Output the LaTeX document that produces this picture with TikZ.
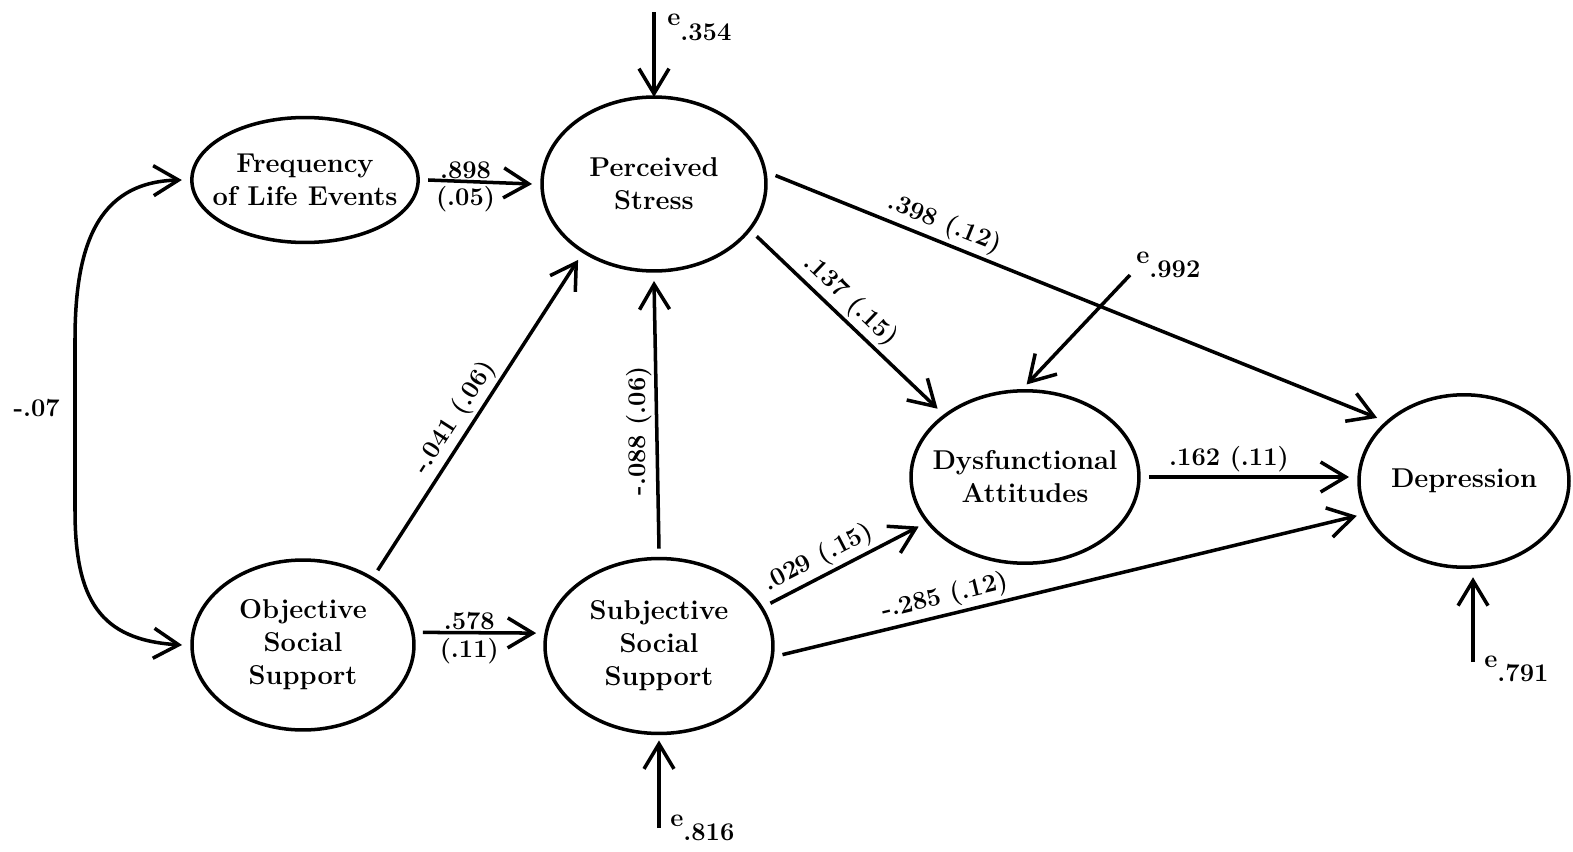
\documentclass[tikz,border=0pt]{standalone}
\usetikzlibrary{arrows.meta,shapes.geometric}

\begin{document}
\begin{tikzpicture}[
  x=0.02cm, y=-0.02cm,
  >={Straight Barb[length=0.5cm,width=0.6cm]},
  font=\fontsize{15.5}{18.8}\selectfont\bfseries,
  latent/.style={draw, ellipse, line width=2pt, inner xsep=-0.25cm,
    inner ysep=0pt, outer sep=0.2cm, align=center},
  effect/.style={->, line width=2pt},
  coef/.style={font=\fontsize{14.5}{16}\selectfont\bfseries, inner sep=2pt},
  errtxt/.style={font=\fontsize{14.5}{16}\selectfont\bfseries, inner sep=0pt}
]

\useasboundingbox (0,0) rectangle (1573,852);

% latent variables
\node[latent, minimum width=4.52cm, minimum height=2.5cm] (fle) at (305,180)
  {Frequency\\of Life Events};
\node[latent, minimum width=4.48cm, minimum height=3.48cm] (ps) at (654,184)
  {Perceived\\Stress};
\node[latent, minimum width=4.44cm, minimum height=3.4cm] (oss) at (303,645)
  {Objective\\Social\\Support};
\node[latent, minimum width=4.56cm, minimum height=3.5cm] (sss) at (659,646)
  {Subjective\\Social\\Support};
\node[latent, minimum width=4.56cm, minimum height=3.45cm] (da) at (1025,477)
  {Dysfunctional\\Attitudes};
\node[latent, minimum width=4.2cm, minimum height=3.45cm] (dep) at (1464,481)
  {Depression};

% covariance of the exogenous variables
\draw[effect,<->] (fle.west) .. controls (95,182) and (75,250) .. (75,340)
  -- node[coef, left, pos=.4, xshift=-0.2cm] (cov) {-.07} (75,510)
  .. controls (75,600) and (100,640) .. (oss.west);

% structural paths
\draw[effect] (fle.east) --
  node[coef, above, pos=.36, inner sep=0.5pt] (b-fle) {.898}
  node[coef, below, pos=.36] (se-fle) {(.05)} (ps.west);
\draw[effect] (oss.6) --
  node[coef, above, pos=.41, inner sep=0.5pt] (b-oss) {.578}
  node[coef, below, pos=.41] (se-oss) {(.11)} (sss.174);
\draw[effect] (oss.45) --
  node[coef, sloped, above, pos=.46] (b-oss-ps) {-.041 (.06)} (ps.225);
\draw[effect] (sss.north) --
  node[coef, rotate=90, anchor=south, pos=.44] (b-sss-ps) {-.088 (.06)} (ps.south);
\draw[effect] (ps.4) --
  node[coef, sloped, above, pos=.27] (b-ps-dep) {.398 (.12)} (dep.144);
\draw[effect] (ps.-27) --
  node[coef, sloped, above, pos=.45] (b-ps-da) {.137 (.15)} (da.142);
\draw[effect] (sss.21) --
  node[coef, sloped, above, pos=.38] (b-sss-da) {.029 (.15)} (da.205);
\draw[effect] (sss.-4) --
  node[coef, sloped, above, pos=.29] (b-sss-dep) {-.285 (.12)} (dep.198);
\draw[effect] (da.east) --
  node[coef, above, pos=.4] (b-da-dep) {.162 (.11)} (da.east -| dep.west);

% disturbances
\coordinate (e-ps) at (654,12);
\draw[effect, shorten >=-0.2cm] (e-ps) -- (ps.north);
\node[errtxt, anchor=base west] (e-ps-lbl) at (667,26)
  {e\raisebox{-8pt}{.354}};

\coordinate (e-da) at (1130,275);
\draw[effect, shorten >=-0.1cm] (e-da) -- (da.87);
\node[errtxt, anchor=base west] (e-da-lbl) at (1136,263)
  {e\raisebox{-8pt}{.992}};

\coordinate (e-sss) at (659,828);
\draw[effect, shorten >=-0.06cm] (e-sss) -- (sss.south);
\node[errtxt, anchor=base west] (e-sss-lbl) at (670,826)
  {e\raisebox{-8pt}{.816}};

\coordinate (e-dep) at (1473,662);
\draw[effect] (e-dep) -- (e-dep |- dep.south);
\node[errtxt, anchor=base west] (e-dep-lbl) at (1484,667)
  {e\raisebox{-8pt}{.791}};

\end{tikzpicture}
\end{document}
